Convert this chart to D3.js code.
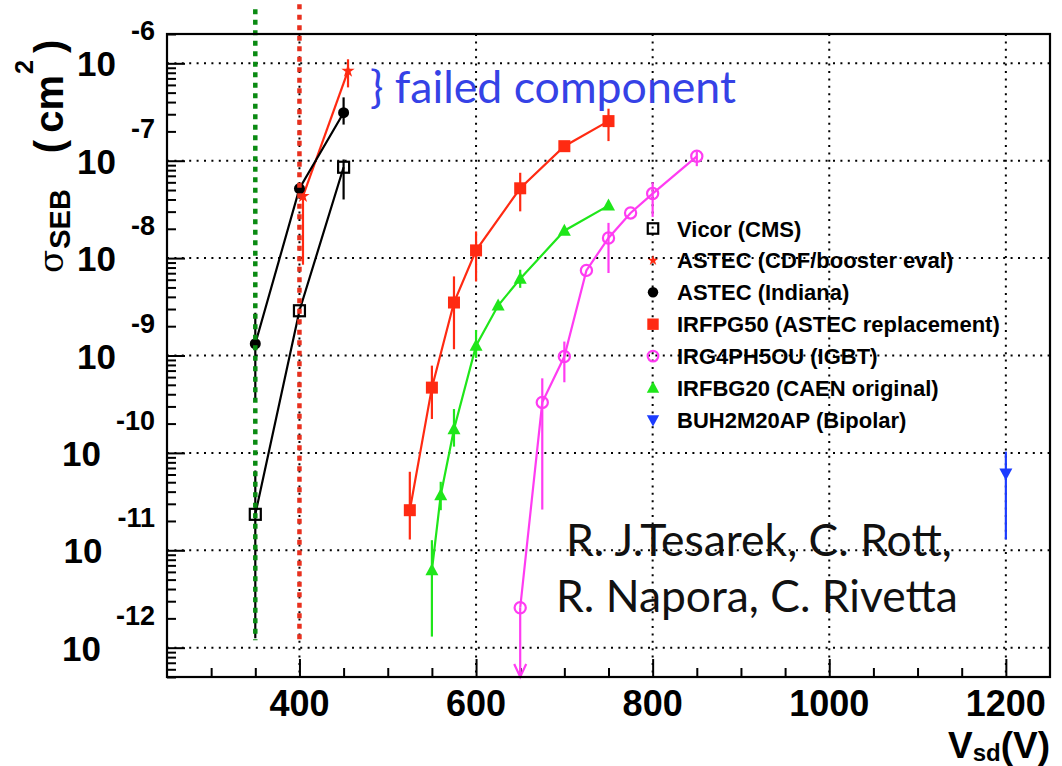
<!DOCTYPE html>
<html><head><meta charset="utf-8">
<script src="https://cdn.jsdelivr.net/npm/d3@7"></script>
<style>body{margin:0;background:#fff}svg{display:block}</style>
</head><body>
<svg id="c" width="1062" height="766"></svg>
<script>
// ---------------- data ----------------
const xTickLabels = [400, 600, 800, 1000, 1200];
const yTickExponents = [-6, -7, -8, -9, -10, -11, -12];

const legendLabels = ["Vicor (CMS)", "ASTEC (CDF/booster eval)", "ASTEC (Indiana)",
  "IRFPG50 (ASTEC replacement)", "IRG4PH5OU (IGBT)", "IRFBG20 (CAEN original)", "BUH2M20AP (Bipolar)"];

const vicorV  = [350, 400, 450];
const vicorS  = [2.34e-11, 2.88e-9, 8.57e-8];
const vicorHi = [6.6e-11, null, 1.03e-7];
const vicorLo = [1.25e-12, null, 4.0e-8];

const cdfV  = [404, 455];
const cdfS  = [4.32e-8, 8.34e-7];
const cdfHi = [5.3e-8, 1.1e-6];
const cdfLo = [8.55e-9, 5.66e-7];

const indianaV  = [350, 400, 450];
const indianaS  = [1.32e-9, 5.18e-8, 3.11e-7];
const indianaHi = [2.75e-9, null, 4.47e-7];
const indianaLo = [3.5e-10, null, 2.35e-7];

const irfpg50V  = [525, 550, 575, 600, 650, 700, 750];
const irfpg50S  = [2.58e-11, 4.68e-10, 3.5e-9, 1.2e-8, 5.21e-8, 1.41e-7, 2.55e-7];
const irfpg50Hi = [6.4e-11, 7.87e-10, 6.49e-9, 1.88e-8, 7.52e-8, null, 3.42e-7];
const irfpg50Lo = [1.29e-11, 2.23e-10, 1.16e-9, 5.75e-9, 3.02e-8, null, 1.59e-7];

const igbtV  = [650, 675, 700, 725, 750, 775, 800, 850];
const igbtS  = [2.57e-12, 3.3e-10, 9.75e-10, 7.48e-9, 1.61e-8, 2.91e-8, 4.6e-8, 1.11e-7];
const igbtHi = [null, 5.83e-10, 1.39e-9, null, 2.3e-8, null, 6.01e-8, 1.25e-7];
const igbtLo = [null, 2.62e-11, 5.31e-10, null, 7.03e-9, null, 2.65e-8, 8.79e-8];
const igbtUpperLimitIndex = [0];   // point drawn with a downward arrow

const irfbg20V  = [550, 560, 575, 600, 625, 650, 700, 750];
const irfbg20S  = [6.22e-12, 3.68e-11, 1.75e-10, 1.26e-9, 3.26e-9, 6.14e-9, 1.91e-8, 3.46e-8];
const irfbg20Hi = [1.27e-11, 5.05e-11, 2.82e-10, 1.83e-9, null, 7.6e-9, null, null];
const irfbg20Lo = [1.3e-12, 2.58e-11, 1.16e-10, 9.44e-10, null, 4.95e-9, null, null];

const bipolarV  = [1200];
const bipolarS  = [6.15e-11];
const bipolarHi = [1.03e-10];
const bipolarLo = [1.29e-11];

// reference (rated voltage) lines
const refV      = [350, 400];
const refTop    = [3.6e-6, 4.05e-6];
const refBottom = [1.19e-12, 1.19e-12];

// ---------------- drawing ----------------
const svg = d3.select("#c");
const L = 167, R = 1050, T = 34, B = 677;
const x = d3.scaleLinear().domain([250, 1250]).range([L, R]);
const y = d3.scaleLog().domain([5e-13, 2e-6]).range([B, T]);

const FONT = "'Liberation Sans', Arial, Helvetica, sans-serif";
const HUM = "Lato, 'Open Sans', sans-serif";

const C = {
  black: "#000", red: "#ff2a12", green: "#1fe61a", magenta: "#ff3cf2",
  blue: "#1c3cff", refGreen: "#0a8a12", refRed: "#e8301e", text: "#3542e6"
};

function zip(v, s, hi, lo) { return v.map((d, i) => ({v: d, s: s[i], hi: hi[i], lo: lo[i]})); }

const series = [
  {name: legendLabels[0], data: zip(vicorV, vicorS, vicorHi, vicorLo), color: C.black, marker: "openSquare", line: true},
  {name: legendLabels[1], data: zip(cdfV, cdfS, cdfHi, cdfLo), color: C.red, marker: "star", line: true},
  {name: legendLabels[2], data: zip(indianaV, indianaS, indianaHi, indianaLo), color: C.black, marker: "circle", line: true},
  {name: legendLabels[3], data: zip(irfpg50V, irfpg50S, irfpg50Hi, irfpg50Lo), color: C.red, marker: "square", line: true},
  {name: legendLabels[4], data: zip(igbtV, igbtS, igbtHi, igbtLo), color: C.magenta, marker: "openCircle", line: true, arrows: igbtUpperLimitIndex},
  {name: legendLabels[5], data: zip(irfbg20V, irfbg20S, irfbg20Hi, irfbg20Lo), color: C.green, marker: "triangleUp", line: true},
  {name: legendLabels[6], data: zip(bipolarV, bipolarS, bipolarHi, bipolarLo), color: C.blue, marker: "triangleDown", line: false}
];

// grid
const grid = svg.append("g").attr("stroke", "#000").attr("stroke-width", 2).attr("stroke-dasharray", "2 5.4");
const decades = yTickExponents.map(e => Math.pow(10, e));
grid.selectAll("line.h").data(decades).join("line")
  .attr("x1", L).attr("x2", R).attr("y1", d => y(d)).attr("y2", d => y(d));
grid.selectAll("line.v").data(xTickLabels).join("line")
  .attr("x1", d => x(d)).attr("x2", d => x(d)).attr("y1", T).attr("y2", B);

// axes ticks
const xMinor = d3.range(300, 1250, 50).filter(v => !xTickLabels.includes(v));
const xAxisMinor = d3.axisBottom(x).tickValues(xMinor).tickSize(-9).tickFormat("");
const xAxisMajor = d3.axisBottom(x).tickValues(xTickLabels).tickSize(-18).tickFormat("");
const yMinorVals = [];
for (let e = -13; e <= -6; e++) for (let k = 2; k <= 9; k++) {
  const v = k * Math.pow(10, e);
  if (v >= 5e-13 && v <= 2e-6) yMinorVals.push(v);
}
const yAxisMinor = d3.axisLeft(y).tickValues(yMinorVals).tickSize(-9).tickFormat("");
const yAxisMajor = d3.axisLeft(y).tickValues(decades).tickSize(-18).tickFormat("");
[[xAxisMinor, "x"], [xAxisMajor, "x"], [yAxisMinor, "y"], [yAxisMajor, "y"]].forEach(([ax, k]) => {
  const g = svg.append("g").attr("transform", k === "x" ? `translate(0,${B})` : `translate(${L},0)`).call(ax);
  g.select(".domain").remove();
  g.selectAll("line").attr("stroke", "#000").attr("stroke-width", 2);
});

// x tick labels
svg.append("g").selectAll("text").data(xTickLabels).join("text")
  .attr("x", d => x(d)).attr("y", 716).attr("text-anchor", "middle")
  .attr("font-family", FONT).attr("font-weight", "bold").attr("font-size", 36)
  .text(d => d);

// y tick labels 10^e
yTickExponents.forEach(e => {
  const t = svg.append("text").attr("x", 155).attr("y", y(Math.pow(10, e)) + 13)
    .attr("text-anchor", "end").attr("font-family", FONT).attr("font-weight", "bold").attr("font-size", 35);
  t.append("tspan").text("10");
  t.append("tspan").attr("dx", 15).attr("dy", -36).attr("font-size", 27).text(String(e));
});

// axis titles
const yt = svg.append("text").attr("transform", "translate(63,273) rotate(-90)").attr("text-anchor", "start")
  .attr("font-family", FONT).attr("font-weight", "bold").attr("font-size", 40);
yt.append("tspan").attr("font-weight", "normal").attr("font-family", "'DejaVu Serif', 'Liberation Serif', serif").attr("font-size", 34).text("σ");
yt.append("tspan").attr("font-size", 29).attr("dy", 7).attr("dx", 1).text("SEB");
yt.append("tspan").attr("dy", -7).attr("dx", 36).text("(");
yt.append("tspan").attr("dx", 7).text("cm");
yt.append("tspan").attr("font-size", 25).attr("dy", -30).attr("dx", 1).text("2");
yt.append("tspan").attr("dy", 30).attr("dx", 7).text(")");

const xt = svg.append("text").attr("x", 1050).attr("y", 758).attr("text-anchor", "end")
  .attr("font-family", FONT).attr("font-weight", "bold").attr("font-size", 37);
xt.append("tspan").text("V");
xt.append("tspan").attr("font-size", 24).attr("dy", 3).text("sd");
xt.append("tspan").attr("dy", -3).text("(V)");

// markers
function drawMarker(g, type, cx, cy, color, scale = 1) {
  const s = scale;
  switch (type) {
    case "openSquare":
      g.append("rect").attr("x", cx - 5.5 * s).attr("y", cy - 5.5 * s).attr("width", 11 * s).attr("height", 11 * s)
        .attr("fill", "none").attr("stroke", color).attr("stroke-width", 2.2); break;
    case "square":
      g.append("rect").attr("x", cx - 6 * s).attr("y", cy - 6 * s).attr("width", 12 * s).attr("height", 12 * s)
        .attr("fill", color); break;
    case "circle":
      g.append("circle").attr("cx", cx).attr("cy", cy).attr("r", 5.5 * s).attr("fill", color); break;
    case "openCircle":
      g.append("circle").attr("cx", cx).attr("cy", cy).attr("r", 5.6 * s).attr("fill", "none")
        .attr("stroke", color).attr("stroke-width", 2.2); break;
    case "star":
      g.append("path").attr("d", d3.symbol(d3.symbolStar, 55 * s * s)()).attr("transform", `translate(${cx},${cy})`)
        .attr("fill", color); break;
    case "triangleUp":
      g.append("path").attr("d", `M${cx},${cy - 7 * s}L${cx + 6.5 * s},${cy + 5 * s}L${cx - 6.5 * s},${cy + 5 * s}Z`).attr("fill", color); break;
    case "triangleDown":
      g.append("path").attr("d", `M${cx},${cy + 7 * s}L${cx + 6.5 * s},${cy - 5 * s}L${cx - 6.5 * s},${cy - 5 * s}Z`).attr("fill", color); break;
  }
}

const dataG = svg.append("g");
const lineGen = d3.line().x(d => x(d.v)).y(d => y(d.s));
series.forEach(sr => {
  const g = dataG.append("g");
  if (sr.line) g.append("path").attr("d", lineGen(sr.data)).attr("fill", "none")
    .attr("stroke", sr.color).attr("stroke-width", 2.2);
  sr.data.forEach(d => {
    if (d.hi != null) g.append("line").attr("x1", x(d.v)).attr("x2", x(d.v)).attr("y1", y(d.hi)).attr("y2", y(d.lo))
      .attr("stroke", sr.color).attr("stroke-width", 2.2);
  });
  (sr.arrows || []).forEach(i => {
    const d = sr.data[i], px = x(d.v), yb = y(y.domain()[0]);
    g.append("line").attr("x1", px).attr("x2", px).attr("y1", y(d.s)).attr("y2", yb)
      .attr("stroke", sr.color).attr("stroke-width", 2.2);
    g.append("path").attr("d", `M${px - 6},${yb - 13}L${px},${yb}L${px + 6},${yb - 13}`)
      .attr("fill", "none").attr("stroke", sr.color).attr("stroke-width", 2.2);
  });
  sr.data.forEach(d => drawMarker(g, sr.marker, x(d.v), y(d.s), sr.color));
});

// reference dotted lines
const refColors = [C.refGreen, C.refRed];
svg.append("g").selectAll("line").data(refV).join("line")
  .attr("x1", d => x(d)).attr("x2", d => x(d))
  .attr("y1", (d, i) => y(refTop[i])).attr("y2", (d, i) => y(refBottom[i]))
  .attr("stroke", (d, i) => refColors[i]).attr("stroke-width", 4.5).attr("stroke-dasharray", "5 5.5");

// legend
const lg = svg.append("g");
series.forEach((sr, i) => {
  const ry = 228.5 + i * 31.9;
  drawMarker(lg, sr.marker, 653, ry, sr.color, sr.marker === "star" ? 0.8 : 0.95);
  lg.append("text").attr("x", 677).attr("y", ry + 8).attr("font-family", FONT).attr("font-weight", "bold")
    .attr("font-size", 22).attr("fill", "#000").text(sr.name);
});

// frame
svg.append("rect").attr("x", L).attr("y", T).attr("width", R - L).attr("height", B - T)
  .attr("fill", "none").attr("stroke", "#000").attr("stroke-width", 2.2);

// annotations (fitted to the reference widths)
function fitText(txt, xLeft, baseline, width, color) {
  const t = svg.append("text").attr("x", xLeft).attr("y", baseline).attr("font-family", HUM)
    .attr("font-size", 40).attr("fill", color).text(txt);
  const w = t.node().getComputedTextLength();
  t.attr("font-size", 40 * width / w);
  return t;
}
fitText("} failed component", 370, 103, 366, C.text);
fitText("R. J.Tesarek, C. Rott,", 566, 556, 386, "#111");
fitText("R. Napora, C. Rivetta", 556, 612, 402, "#111");
</script>
</body></html>
